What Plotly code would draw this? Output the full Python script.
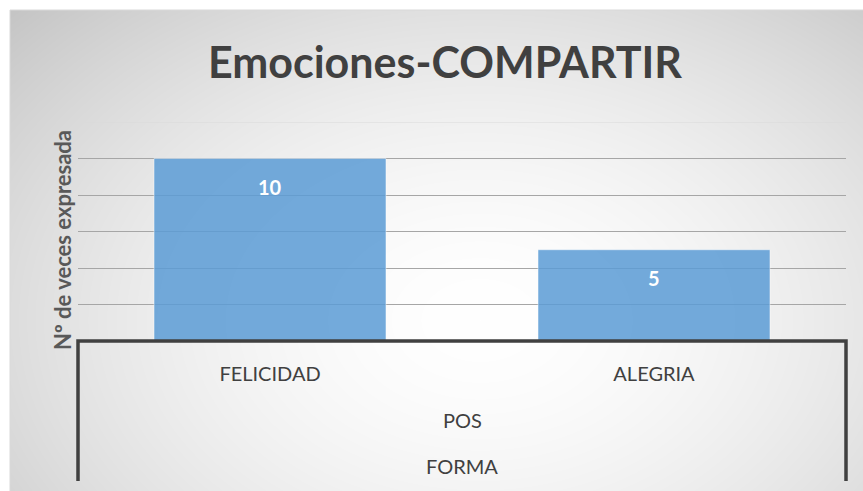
import base64, struct, zlib
import numpy as np
import plotly.graph_objects as go

# ---- data ----
categories = ["FELICIDAD", "ALEGRIA"]
values = [10, 5]
level2_label = "POS"
level3_label = "FORMA"
title_text = "Emociones-COMPARTIR"
y_title = "Nº de veces expresada"
y_max = 12
y_step = 2

W, H = 863, 491
L, R, T, B = 78, 17, 122, 150
plot_w = W - L - R
plot_h = H - T - B


def px_x(px):
    return (px - L) / plot_w


def px_y(py):
    return (H - B - py) / plot_h


# ---- radial gradient background (decoration) ----
def png_gray(arr):
    h, w = arr.shape
    raw = b"".join(b"\x00" + arr[i].tobytes() for i in range(h))

    def chunk(t, d):
        return struct.pack(">I", len(d)) + t + d + struct.pack(">I", zlib.crc32(t + d) & 0xFFFFFFFF)

    return (b"\x89PNG\r\n\x1a\n" + chunk(b"IHDR", struct.pack(">IIBBBBB", w, h, 8, 0, 0, 0, 0))
            + chunk(b"IDAT", zlib.compress(raw, 9)) + chunk(b"IEND", b""))


bx0, by0 = 10, 10
bw, bh = W - bx0, H - by0
yy, xx = np.mgrid[0:bh, 0:bw]
cx, cy = 480 - bx0, 320 - by0
d = np.sqrt(((xx - cx) / 470.0) ** 2 + ((yy - cy) / 330.0) ** 2)
t = np.clip(d / 1.45, 0, 1) ** 1.7
img = (255 - 64 * t).astype(np.uint8)
uri = "data:image/png;base64," + base64.b64encode(png_gray(img)).decode()

fig = go.Figure()
fig.add_trace(go.Bar(
    x=categories, y=values,
    marker=dict(color="rgba(91,155,213,0.85)", line=dict(color="rgba(255,255,255,0.45)", width=1)),
    hoverinfo="skip",
))

annotations = []
for c, v in zip(categories, values):
    annotations.append(dict(x=c, y=v, xref="x", yref="y", text=f"<b>{v}</b>", showarrow=False,
                            yanchor="middle", yshift=-28,
                            font=dict(family="Lato", size=20, color="white")))
annotations.append(dict(x=0.5, y=px_y(420), xref="paper", yref="paper", text=level2_label,
                        xanchor="center", yanchor="middle",
                        showarrow=False, font=dict(family="Lato", size=20, color="#404040")))
annotations.append(dict(x=0.5, y=px_y(466), xref="paper", yref="paper", text=level3_label,
                        xanchor="center", yanchor="middle",
                        showarrow=False, font=dict(family="Lato", size=20, color="#404040")))
annotations.append(dict(x=px_x(62), y=px_y(240), xref="paper", yref="paper", text=f"<b>{y_title}</b>",
                        xanchor="center", yanchor="middle",
                        textangle=-90, showarrow=False, font=dict(family="Lato", size=22, color="#595959")))

shapes = [
    # chart border
    dict(type="rect", xref="paper", yref="paper", x0=px_x(10), x1=px_x(W + 5), y0=px_y(H + 5), y1=px_y(10),
         line=dict(color="#d9d9d9", width=1), layer="below"),
    # top gridline (lighter)
    dict(type="line", xref="paper", yref="y", x0=0, x1=1, y0=y_max, y1=y_max,
         line=dict(color="#d9d9d9", width=1), layer="below"),
    # multi-level axis frame
    dict(type="path", xref="paper", yref="paper",
         path=f"M {px_x(78)},{px_y(481)} L {px_x(78)},{px_y(341)} L {px_x(846)},{px_y(341)} L {px_x(846)},{px_y(481)}",
         line=dict(color="#404040", width=3.5)),
]

fig.update_layout(
    width=W, height=H,
    margin=dict(l=L, r=R, t=T, b=B),
    paper_bgcolor="white", plot_bgcolor="rgba(0,0,0,0)",
    showlegend=False,
    bargap=0.396,
    title=dict(text=f"<b>{title_text}</b>", x=445 / W, xanchor="center", y=1 - 63 / H, yanchor="middle",
               font=dict(family="Lato", size=43, color="#404040")),
    xaxis=dict(type="category", showgrid=False, zeroline=False, showline=False,
               ticks="outside", ticklen=15, tickcolor="rgba(0,0,0,0)",
               tickfont=dict(family="Lato", size=20, color="#404040")),
    yaxis=dict(range=[0, y_max], tickvals=list(range(0, y_max, y_step)), showticklabels=False,
               showgrid=True, gridcolor="#a6a6a6", gridwidth=1, zeroline=False, showline=False, ticks=""),
    images=[dict(source=uri, xref="paper", yref="paper", x=px_x(bx0), y=px_y(by0),
                 sizex=bw / plot_w, sizey=bh / plot_h, xanchor="left", yanchor="top",
                 sizing="stretch", layer="below")],
    annotations=annotations,
    shapes=shapes,
)

fig.write_html("out.html", config={"displayModeBar": False},
               post_script="document.body.style.margin='0';document.body.style.padding='0';")
